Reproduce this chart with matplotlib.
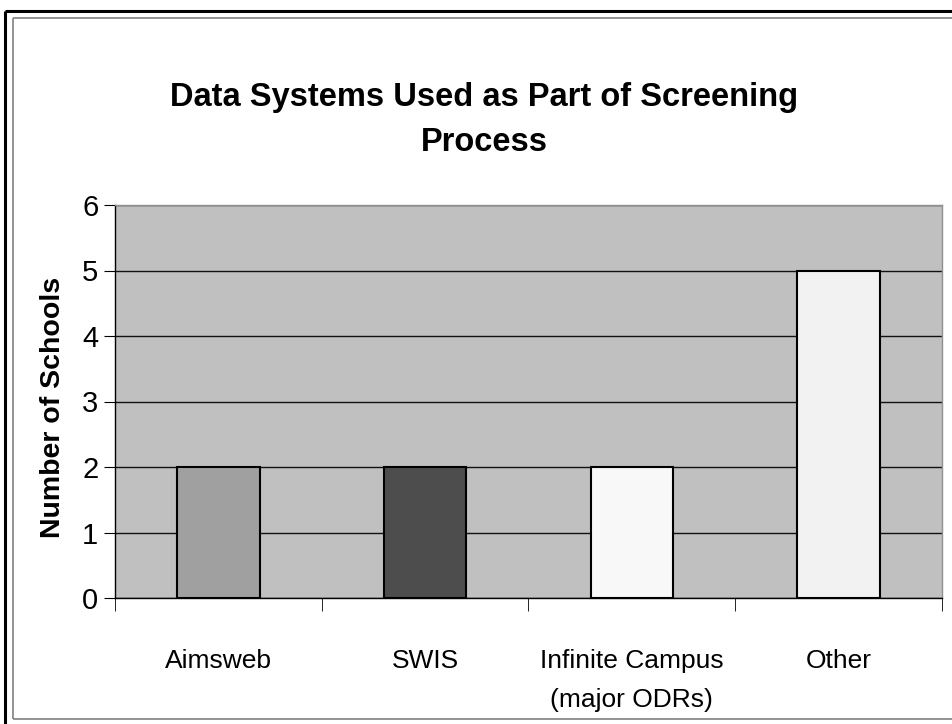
import matplotlib
matplotlib.use('Agg')
import matplotlib.pyplot as plt
from matplotlib.lines import Line2D
import numpy as np

categories = ['Aimsweb', 'SWIS', 'Infinite Campus\n(major ODRs)', 'Other']
schools = [2, 2, 2, 5]
bar_colors = ['#a0a0a0', '#4d4d4d', '#f8f8f8', '#f2f2f2']
yticks = [0, 1, 2, 3, 4, 5, 6]

narrow = ['Liberation Sans Narrow', 'Liberation Sans', 'DejaVu Sans']
plain = ['Liberation Sans', 'DejaVu Sans']

fig = plt.figure(figsize=(9.53, 7.24), dpi=100)
ax = fig.add_axes([115/953, 1-598/724, 827/953, 393/724])
ax.set_facecolor('#c0c0c0')

x = np.arange(len(categories))
ax.bar(x, schools, width=0.4, color=bar_colors, edgecolor='black', linewidth=1.5, zorder=3)

ax.set_xlim(-0.5, len(categories)-0.5)
ax.set_ylim(0, 6)
ax.set_yticks(yticks)
ax.set_yticklabels([str(t) for t in yticks], family=narrow, fontsize=21)
ax.yaxis.grid(True, color='#111111', linewidth=1, zorder=1)
ax.set_axisbelow(True)

# category labels at centers, tick marks at boundaries
ax.set_xticks(x)
ax.set_xticklabels(categories, family=narrow, fontsize=19, linespacing=1.75)
ax.set_xticks(np.arange(-0.5, len(categories)), minor=True)
ax.tick_params(axis='x', which='major', length=0, pad=37)
ax.tick_params(axis='x', which='minor', length=9, direction='out', color='black')
ax.tick_params(axis='y', length=8, direction='out', color='black', pad=4)

ax.spines['left'].set_color('black')
ax.spines['bottom'].set_color('black')
ax.spines['top'].set_color('#909090')
ax.spines['right'].set_color('#909090')
for s in ax.spines.values():
    s.set_linewidth(1)

ax.text(53/953, 1-407/724, 'Number of Schools', transform=fig.transFigure,
        rotation=90, ha='center', va='center', fontsize=20.5, fontweight='bold', family=plain)

fig.text(484/953, 1-120/724, 'Data Systems Used as Part of Screening\nProcess',
         ha='center', va='center', fontsize=23.5, fontweight='bold', family=plain,
         linespacing=1.6, multialignment='center')

# outer frame
def fl(x0, y0, x1, y1, c, lw):
    fig.add_artist(Line2D([x0/953, x1/953], [1-y0/724, 1-y1/724], color=c, linewidth=lw,
                          transform=fig.transFigure, solid_capstyle='butt'))

fl(4.5, 10.5, 953, 10.5, 'black', 2.2)
fl(5.5, 10.5, 5.5, 724, 'black', 2.2)
fl(13.5, 17.5, 953, 17.5, '#808080', 1.2)
fl(13.5, 17.5, 13.5, 719, '#808080', 1.2)
fl(13.5, 719, 953, 719, '#808080', 1.2)

fig.savefig('out.png', dpi=100)
